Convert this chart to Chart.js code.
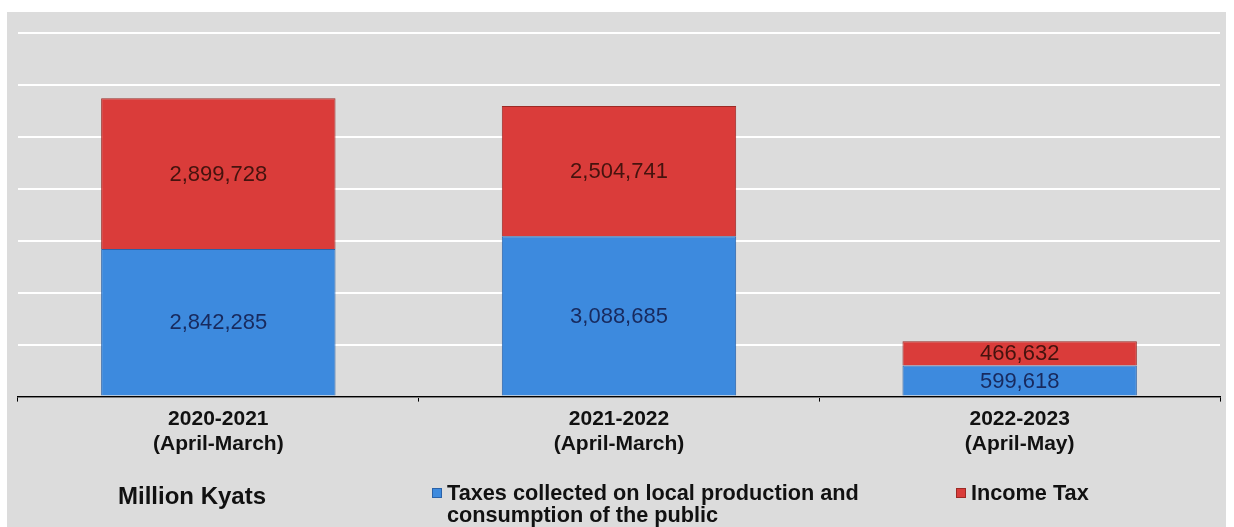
<!DOCTYPE html>
<html>
    <head>
        <title>Tax revenue</title>
        <script src="https://cdn.jsdelivr.net/npm/chart.js@4"></script>
        <style>
            html, body { margin: 0; padding: 0; background: #fff; }
            #wrap { width: 1234px; height: 527px; }
        </style>
    </head>
    <body>
        <div id="wrap"><canvas id="chart"></canvas></div>

        <script>
            const periods = [
                ['2020-2021', '(April-March)'],
                ['2021-2022', '(April-March)'],
                ['2022-2023', '(April-May)'],
            ]
            const localTaxes = [2842285, 3088685, 599618]
            const incomeTax = [2899728, 2504741, 466632]
            const unitLabel = 'Million Kyats'
            const localLabel = ['Taxes collected on local production and', 'consumption of the public']
            const incomeLabel = ['Income Tax']

            const fmt = v => v.toLocaleString('en-US')

            // grey panel behind everything
            const panel = {
                id: 'panel',
                beforeDraw(chart) {
                    const ctx = chart.ctx
                    ctx.save()
                    ctx.fillStyle = '#dcdcdc'
                    ctx.fillRect(7, 12, 1219, 515)
                    ctx.restore()
                },
            }

            // value in the middle of each segment
            const valueLabels = {
                id: 'valueLabels',
                afterDatasetsDraw(chart) {
                    const ctx = chart.ctx
                    ctx.save()
                    ctx.font = '22px "Liberation Sans", Arial, sans-serif'
                    ctx.textAlign = 'center'
                    ctx.textBaseline = 'middle'
                    chart.data.datasets.forEach((ds, i) => {
                        chart.getDatasetMeta(i).data.forEach((bar, j) => {
                            const y = (bar.y + bar.base) / 2
                            ctx.fillStyle = ds.textColor
                            ctx.fillText(fmt(ds.data[j]), bar.x, y + 1)
                        })
                    })
                    ctx.restore()
                },
            }

            // legend row under the axis
            const legendRow = {
                id: 'legendRow',
                afterDraw(chart) {
                    const ctx = chart.ctx
                    ctx.save()
                    ctx.textBaseline = 'middle'
                    ctx.fillStyle = '#111'
                    ctx.font = 'bold 24px "Liberation Sans", Arial, sans-serif'
                    ctx.fillText(unitLabel, 118, 497)
                    ctx.font = 'bold 21.7px "Liberation Sans", Arial, sans-serif'
                    const spots = [432, 956]
                    chart.data.datasets.forEach((ds, i) => {
                        const x = spots[i]
                        ctx.fillStyle = ds.backgroundColor
                        ctx.strokeStyle = ds.borderColor
                        ctx.fillRect(x, 488, 10, 10)
                        ctx.strokeRect(x + 0.5, 488.5, 9, 9)
                        ctx.fillStyle = '#111'
                        ds.legendLines.forEach((line, k) => {
                            ctx.fillText(line, x + 15, 494 + k * 22)
                        })
                    })
                    ctx.restore()
                },
            }

            const chart = new Chart('chart', {
                type: 'bar',
                data: {
                    labels: periods,
                    datasets: [
                        {
                            label: localLabel.join(' '),
                            legendLines: localLabel,
                            data: localTaxes,
                            backgroundColor: '#3d8ade',
                            borderColor: '#2a62a8',
                            borderWidth: 1,
                            textColor: '#182a5e',
                        },
                        {
                            label: incomeLabel.join(' '),
                            legendLines: incomeLabel,
                            data: incomeTax,
                            backgroundColor: '#da3c3a',
                            borderColor: '#9c2a25',
                            borderWidth: 1,
                            textColor: '#45130e',
                        },
                    ],
                },
                options: {
                    responsive: true,
                    maintainAspectRatio: false,
                    animation: false,
                    layout: { padding: { left: 18, right: 14, top: 33, bottom: 65 } },
                    datasets: {
                        bar: { categoryPercentage: 1, barPercentage: 0.585 },
                    },
                    plugins: {
                        legend: { display: false },
                        tooltip: { enabled: false },
                    },
                    scales: {
                        x: {
                            stacked: true,
                            border: { display: true, color: '#000', width: 1.5 },
                            grid: {
                                drawOnChartArea: false,
                                drawTicks: true,
                                tickLength: 5,
                                color: '#000',
                            },
                            ticks: {
                                color: '#111',
                                padding: 5,
                                font: { family: '"Liberation Sans", Arial, sans-serif', size: 21, weight: 'bold', lineHeight: 1.2 },
                            },
                        },
                        y: {
                            stacked: true,
                            min: 0,
                            max: 7000000,
                            border: { display: false },
                            grid: { color: '#ffffff', lineWidth: 2, drawTicks: false },
                            ticks: { display: false, stepSize: 1000000 },
                        },
                    },
                },
                plugins: [panel, valueLabels, legendRow],
            })
        </script>
    </body>
</html>
